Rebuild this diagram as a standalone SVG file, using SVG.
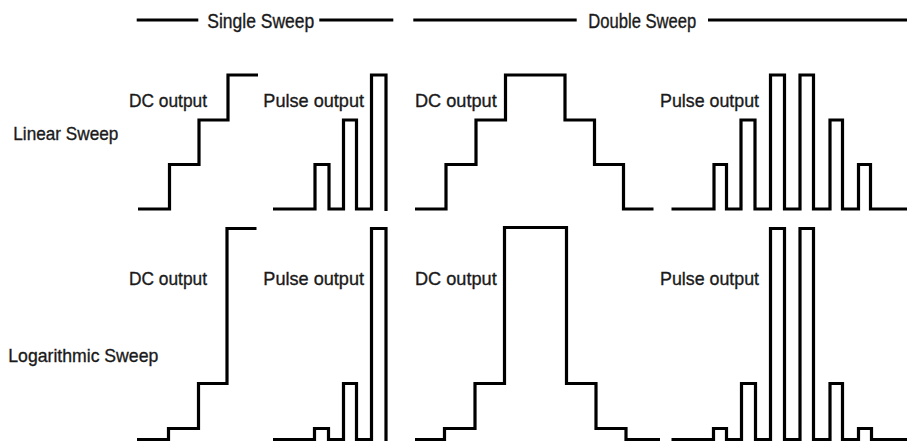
<svg xmlns="http://www.w3.org/2000/svg" width="907" height="441" viewBox="0 0 907 441">
<style>
.w{fill:none;stroke:#000;stroke-width:3.2;stroke-linejoin:miter;stroke-linecap:butt}
.t{font-family:"Liberation Sans Narrow","Liberation Sans",Arial,sans-serif;font-size:19px;fill:#1a1a1a;stroke:#1a1a1a;stroke-width:0.35}
.h{font-size:20px}
</style>
<rect width="907" height="441" fill="#fff"/>
<g id="header">
<path class="w" d="M136.7 20H198.3M319.3 20H393.3M413.3 20H576.7M708 20H907"/>
<text class="t h" x="207.3" y="28.3" textLength="107" lengthAdjust="spacingAndGlyphs">Single Sweep</text>
<text class="t h" x="588.3" y="28.3" textLength="108" lengthAdjust="spacingAndGlyphs">Double Sweep</text>
</g>
<g id="row-labels">
<text class="t" x="13.3" y="140" textLength="105" lengthAdjust="spacingAndGlyphs">Linear Sweep</text>
<text class="t" x="8.3" y="361.7" textLength="150" lengthAdjust="spacingAndGlyphs">Logarithmic Sweep</text>
</g>
<g id="lin-single-dc">
<text class="t" x="129" y="106.7" textLength="78" lengthAdjust="spacingAndGlyphs">DC output</text>
<path class="w" d="M138 209H169.5V164.5H199V120H228V75H258"/>
</g>
<g id="lin-single-pulse">
<text class="t" x="263.3" y="106.7" textLength="100.7" lengthAdjust="spacingAndGlyphs">Pulse output</text>
<path class="w" d="M273 209H315V164.5H329V209H343.5V120H356.5V209H371.5V75H386V211"/>
</g>
<g id="lin-double-dc">
<text class="t" x="415" y="106.7" textLength="81.7" lengthAdjust="spacingAndGlyphs">DC output</text>
<path class="w" d="M415 209H446V164.5H476V120H505.5V75H565V120H594.5V164.5H623.5V209H653.5"/>
</g>
<g id="lin-double-pulse">
<text class="t" x="660" y="106.7" textLength="99" lengthAdjust="spacingAndGlyphs">Pulse output</text>
<path class="w" d="M671.5 209H714V164.5H726.5V209H741V120H755V209H770.5V75H784.5V209H800V75H813.5V209H830V120H842.5V209H858.5V164.5H870.5V209H907"/>
</g>
<g id="log-single-dc">
<text class="t" x="129" y="285" textLength="78" lengthAdjust="spacingAndGlyphs">DC output</text>
<path class="w" d="M137 439.5H168.5V428.5H198.5V383.5H227V228.5H256.5"/>
</g>
<g id="log-single-pulse">
<text class="t" x="263.3" y="285" textLength="100.7" lengthAdjust="spacingAndGlyphs">Pulse output</text>
<path class="w" d="M273 439.5H314.5V428.5H328.5V439.5H343.5V383.5H356.5V439.5H371.5V228.5H386V441"/>
</g>
<g id="log-double-dc">
<text class="t" x="415" y="285" textLength="81.7" lengthAdjust="spacingAndGlyphs">DC output</text>
<path class="w" d="M415 439.5H444.5V428.5H475V383.5H504.5V227.5H566.5V383.5H596V428.5H626V439.5H660"/>
</g>
<g id="log-double-pulse">
<text class="t" x="660" y="285" textLength="99" lengthAdjust="spacingAndGlyphs">Pulse output</text>
<path class="w" d="M671.5 439.5H713.5V428.5H726.5V439.5H741.5V383.5H755.5V439.5H770.5V228.5H784.5V439.5H800V228.5H813.5V439.5H830V383.5H842.5V439.5H858.5V428.5H871.5V439.5H907"/>
</g>
</svg>
